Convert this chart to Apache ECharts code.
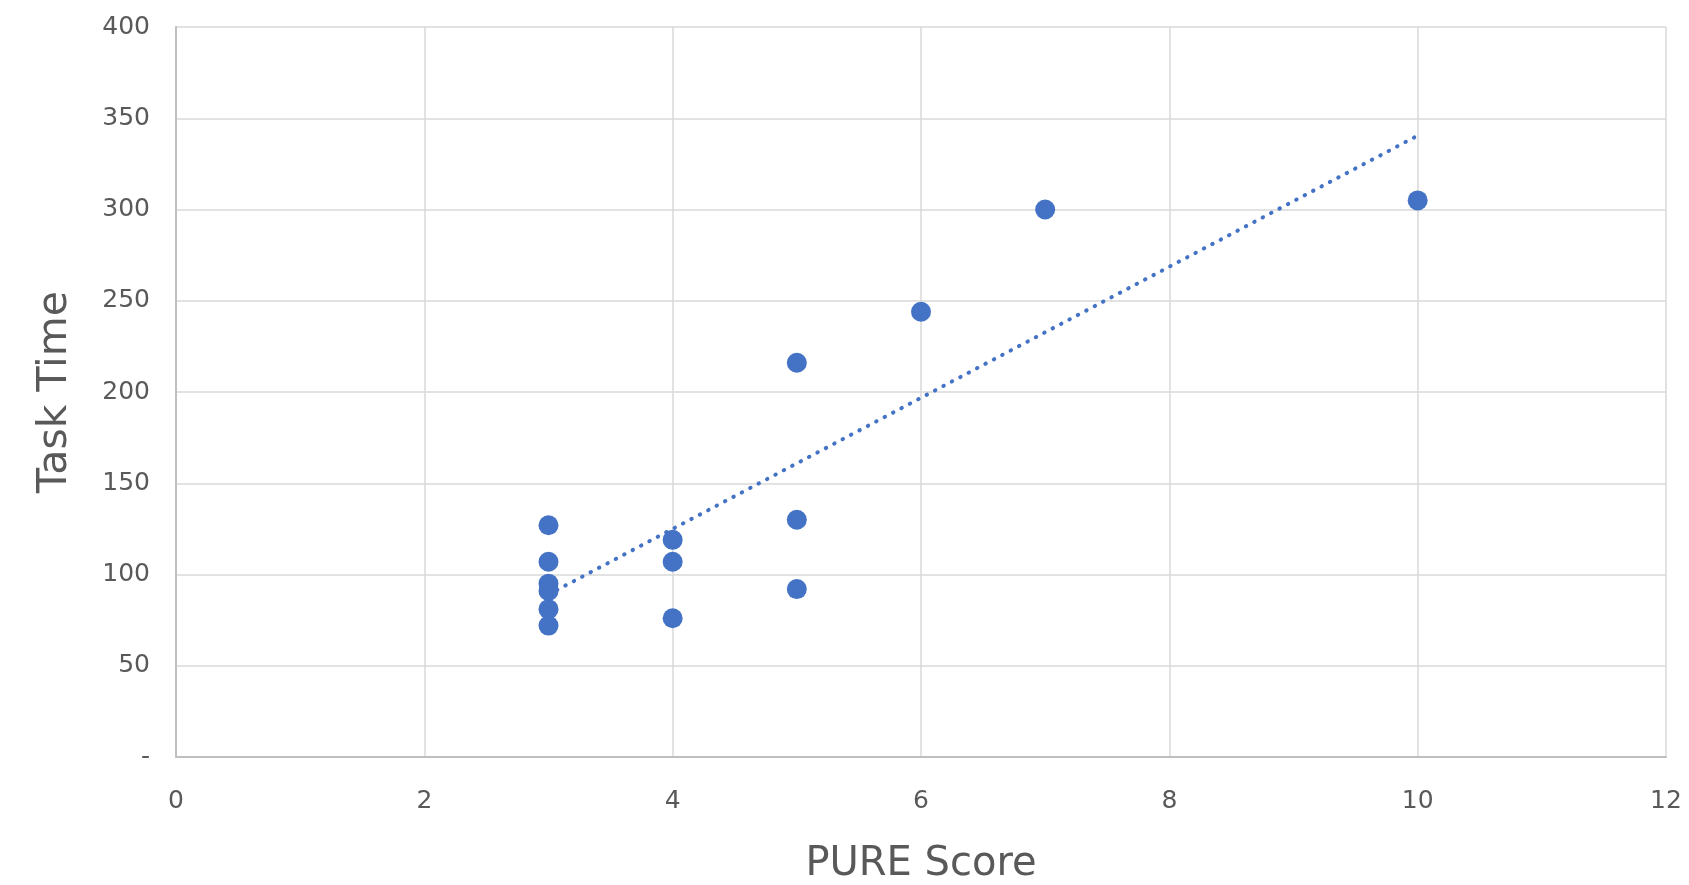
<!DOCTYPE html>
<html>
<head>
<meta charset="utf-8">
<title>Task Time vs PURE Score</title>
<script src="https://cdn.jsdelivr.net/npm/echarts@6/dist/echarts.min.js"></script>
<style>
  html, body { margin: 0; padding: 0; background: #ffffff; }
  #chart { width: 1689px; height: 885px; }
</style>
</head>
<body>
<div id="chart"></div>
<script>
// PURE score per task and the observed task time (seconds)
const pureScore = [3, 3, 3, 3, 3, 3, 4, 4, 4, 5, 5, 5, 6, 7, 10];
const taskTime  = [127, 107, 95, 91, 81, 72, 119, 107, 76, 216, 130, 92, 244, 300, 305];

// Axis ticks
const xTicks = [0, 2, 4, 6, 8, 10, 12];
const yTicks = [0, 50, 100, 150, 200, 250, 300, 350, 400];

const points = pureScore.map((x, i) => [x, taskTime[i]]);

// Least-squares linear trendline over the range of the observed scores
function linearTrend(xs, ys) {
  const n = xs.length;
  const mx = xs.reduce((a, b) => a + b, 0) / n;
  const my = ys.reduce((a, b) => a + b, 0) / n;
  let sxy = 0, sxx = 0;
  for (let i = 0; i < n; i++) {
    sxy += (xs[i] - mx) * (ys[i] - my);
    sxx += (xs[i] - mx) * (xs[i] - mx);
  }
  const slope = sxy / sxx;
  const intercept = my - slope * mx;
  const x0 = Math.min(...xs), x1 = Math.max(...xs);
  return [[x0, intercept + slope * x0], [x1, intercept + slope * x1]];
}
const trend = linearTrend(pureScore, taskTime);

const blue = '#4472C4';
const textGray = '#595959';
const gridGray = '#d9d9d9';
const axisGray = '#bfbfbf';
const fontName = 'DejaVu Sans';

const chart = echarts.init(document.getElementById('chart'), null, { renderer: 'canvas' });
chart.setOption({
  backgroundColor: '#ffffff',
  animation: false,
  grid: {
    left: 176, right: 23, top: 27, bottom: 128,
    containLabel: false,
    outerBoundsMode: 'none'
  },
  xAxis: {
    type: 'value',
    min: xTicks[0],
    max: xTicks[xTicks.length - 1],
    interval: xTicks[1] - xTicks[0],
    name: 'PURE Score',
    nameLocation: 'middle',
    nameGap: 88,
    nameTextStyle: { color: textGray, fontSize: 40, fontFamily: fontName },
    axisLine: { show: true, lineStyle: { color: axisGray, width: 2 } },
    axisTick: { show: false },
    axisLabel: { color: textGray, fontSize: 25, fontFamily: fontName, margin: 32 },
    splitLine: { show: true, lineStyle: { color: gridGray, width: 1.5 } }
  },
  yAxis: {
    type: 'value',
    min: yTicks[0],
    max: yTicks[yTicks.length - 1],
    interval: yTicks[1] - yTicks[0],
    name: 'Task Time',
    nameLocation: 'middle',
    nameRotate: 90,
    nameGap: 100,
    nameTextStyle: { color: textGray, fontSize: 41, fontFamily: fontName },
    axisLine: { show: true, lineStyle: { color: axisGray, width: 2 } },
    axisTick: { show: false },
    axisLabel: {
      color: textGray, fontSize: 25, fontFamily: fontName, margin: 26,
      formatter: v => (v === 0 ? '-' : String(v))
    },
    splitLine: { show: true, lineStyle: { color: gridGray, width: 1.5 } }
  },
  series: [
    {
      type: 'line',
      data: trend,
      showSymbol: false,
      symbol: 'none',
      silent: true,
      z: 1,
      lineStyle: { color: blue, width: 4, type: [0.5, 9], cap: 'round' }
    },
    {
      type: 'scatter',
      data: points,
      symbol: 'circle',
      symbolSize: 20,
      z: 2,
      itemStyle: { color: blue, opacity: 1 }
    }
  ]
});
</script>
</body>
</html>
